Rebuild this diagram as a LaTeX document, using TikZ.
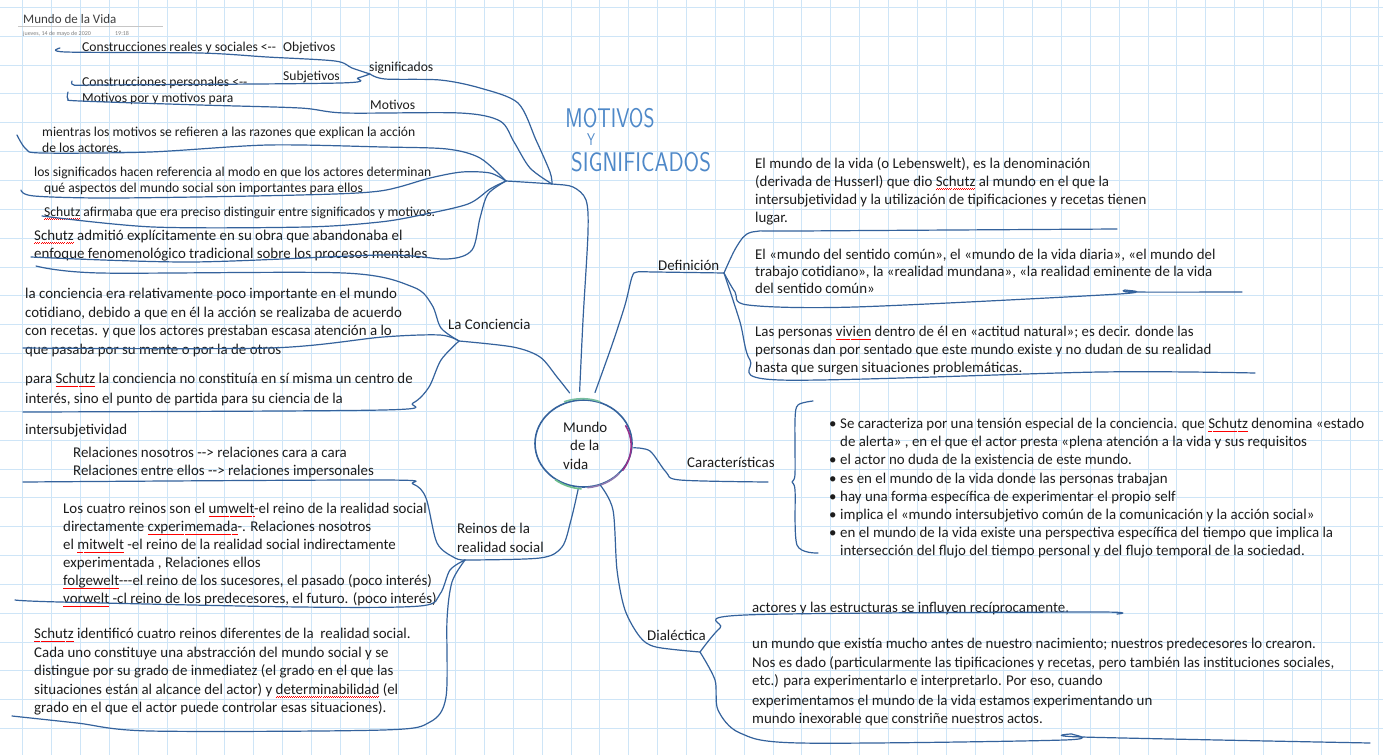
\documentclass[tikz,border=0pt]{standalone}
\usepackage{fontspec}
\setmainfont{Carlito}
\usepackage{graphicx}
\usetikzlibrary{shapes.geometric,positioning}

\definecolor{ink}{RGB}{52,98,156}
\definecolor{gridc}{RGB}{206,229,247}
\definecolor{textc}{RGB}{28,28,28}
\definecolor{handc}{RGB}{78,136,200}
\newsavebox{\splbox}
\newcommand{\spl}[1]{\sbox{\splbox}{#1}\rlap{\textcolor{red}{\hbox to \wd\splbox{\xleaders\hbox{\rule[-3.3pt]{1pt}{0.55pt}\rule[-2.7pt]{1pt}{0.55pt}}\hfill}}}#1}
\newcommand{\hw}[2]{\scalebox{#1}[1]{#2}}

\begin{document}
\begin{tikzpicture}[x=1pt,y=-1pt,
  ink/.style={draw=ink,line width=1.2pt,line cap=round,line join=round},
  gridline/.style={draw=gridc,line width=0.8pt},
  txt/.style={anchor=north west,inner sep=0pt,align=left,text=textc,
    font=\fontsize{14.9}{18.3}\selectfont,execute at begin node=\strut},
  lbl/.style={txt},
  small/.style={txt,font=\fontsize{13.6}{16.5}\selectfont},
  hand/.style={inner sep=0pt,text=handc,font=\sffamily\fontsize{27}{27}\selectfont}]

  \useasboundingbox (0,0) rectangle (1383,755);
  \fill[white] (0,0) rectangle (1383,755);
  \foreach \i in {0,...,47} {\draw[gridline] ({22.85+28.85*\i},0) -- ({22.85+28.85*\i},755);}
  \foreach \j in {0,...,25} {\draw[gridline] (0,{7.3+28.85*\j}) -- (1383,{7.3+28.85*\j});}

  % page title
  \node[anchor=north west,inner sep=0pt,text=textc!85,font=\fontsize{13}{15}\selectfont] (title) at (23,14) {Mundo de la Vida};
  \draw[gray!45,line width=0.6pt] ([xshift=-5pt,yshift=-3pt]title.south west) -- ++(145,0);
  \node[anchor=base west,inner sep=0pt,text=gray,font=\fontsize{6}{7}\selectfont] (date) at (23,35) {jueves, 14 de mayo de 2020};
  \node[anchor=base west,inner sep=0pt,text=gray,font=\fontsize{6}{7}\selectfont] (hour) at (115,35) {19:18};

  % centre
  \node[draw=ink,line width=1.6pt,ellipse,minimum width=97pt,minimum height=87pt,inner sep=0pt] (core) at (583.5,443.5) {};
  \draw[line width=1.6pt,draw={rgb,255:red,120;green,190;blue,160}] (core.68) arc[start angle=68,end angle=112,x radius=48.5pt,y radius=43.5pt];
  \draw[line width=1.6pt,draw={rgb,255:red,150;green,50;blue,140}] (core.-35) arc[start angle=-35,end angle=28,x radius=48.5pt,y radius=43.5pt];
  \draw[line width=1.6pt,draw={rgb,255:red,110;green,190;blue,140}] (core.232) arc[start angle=232,end angle=266,x radius=48.5pt,y radius=43.5pt];
  \draw[line width=1.6pt,draw={rgb,255:red,140;green,120;blue,175}] (core.275) arc[start angle=275,end angle=318,x radius=48.5pt,y radius=43.5pt];
  \node[txt] (coretxt) at (563,422) {Mundo\\\hspace*{7pt}de la\\vida};

  % hand written title
  \node[hand] (hw1) at (610,118) {\hw{0.78}{MOTIVOS}};
  \node[hand,font=\sffamily\fontsize{17}{17}\selectfont] (hw2) at (591,140) {\hw{0.75}{Y}};
  \node[hand] (hw3) at (641,162) {\hw{0.83}{SIGNIFICADOS}};

  % junctions and free ends
  \coordinate (jsig) at (370,74);
  \coordinate (jtop) at (506,181);
  \coordinate (jmid) at (552,184);
  \coordinate (jcon) at (459,341);
  \coordinate (jrei) at (465,560);
  \coordinate (jdef) at (724,273);
  \coordinate (jdia) at (700,652);
  \coordinate (eobj) at (60,48);
  \coordinate (esub) at (72,81);
  \coordinate (emot) at (68,92);
  \coordinate (emie) at (17,135);
  \coordinate (esgn) at (21,190);
  \coordinate (eafi) at (42,216);
  \coordinate (eadm) at (31,257);
  \coordinate (eco1) at (36,266);
  \coordinate (eco2) at (23,348);
  \coordinate (eco3) at (23,412);
  \coordinate (ere1) at (23,482);
  \coordinate (ere2) at (15,600);
  \coordinate (ere3) at (12,716);
  \coordinate (ede1) at (1117,229);
  \coordinate (ede2) at (1242,292);
  \coordinate (ede3) at (1255,373);
  \coordinate (ecar) at (768,482);
  \coordinate (edi1) at (1117,614);
  \coordinate (edi2) at (1370,743);

  % motivos y significados
  \node[small] (objt) at (82,39.5) {Construcciones reales y sociales <-{}-};
  \node[small] (obj) at (283,39.5) {Objetivos};
  \node[small] (sig) at (369,59.5) {significados};
  \node[small] (subj) at (283,68.5) {Subjetivos};
  \node[small] (subjt) at (82,74.5) {Construcciones personales <-{}-};
  \node[small] (mott) at (82,90.5) {Motivos por y motivos para};
  \node[small] (mot) at (370,97.5) {Motivos};
  \node[small] (mien) at (42,126.5) {mientras los motivos se refieren a las razones que explican la acción\\de los actores.};
  \node[small,font=\fontsize{13.6}{16}\selectfont] (sgn) at (34,166.5) {los significados hacen referencia al modo en que los actores determinan\\\hspace*{10pt}qué aspectos del mundo social son importantes para ellos};
  \node[small] (afir) at (44,204.5) {\spl{Schutz} afirmaba que era preciso distinguir entre significados y motivos.};
  \node[txt,font=\fontsize{14.9}{18}\selectfont] (admi) at (34,229.5) {\spl{Schutz} admitió explícitamente en su obra que abandonaba el\\enfoque fenomenológico tradicional sobre los procesos mentales};

  \draw[ink] plot[smooth] coordinates {(eobj) (66,52) (200,53) (267,57) (335,61) (352,68) (jsig)};
  \draw[ink] plot[smooth] coordinates {(esub) (74,85) (100,85) (340,83) (358,78) (jsig)};
  \draw[ink] plot[smooth] coordinates {(jsig) (385,79) (440,80) (480,88) (518,103) (536,140) (550,172) (jmid)};
  \draw[ink] plot[smooth] coordinates {(emot) (68,99) (80,101) (200,105) (300,108) (345,113) (460,113) (500,121) (514,142) (530,168) (jmid)};
  \draw[ink] plot[smooth] coordinates {(emie) (26,149) (42,153) (150,152) (268,145) (383,147) (447,149) (480,158) (jtop)};
  \draw[ink] plot[smooth] coordinates {(esgn) (34,196) (115,198) (300,195) (380,191) (430,178) (462,172) (490,173) (jtop)};
  \draw[ink] plot[smooth] coordinates {(eafi) (153,227) (306,227) (380,222) (421,215) (468,204) (490,189) (jtop)};
  \draw[ink] plot[smooth] coordinates {(eadm) (191,262) (383,255) (447,259) (472,250) (480,218) (488,194) (jtop)};
  \draw[ink] plot[smooth] coordinates {(jtop) (jmid) (573,187) (586,200) (588,232) (583,320) ([yshift=8pt]core.95)};

  % la conciencia
  \node[lbl] (conl) at (448,316.5) {La Conciencia};
  \node[txt,font=\fontsize{14.9}{18.5}\selectfont] (con1) at (25,288) {la conciencia era relativamente poco importante en el mundo\\cotidiano, debido a que en él la acción se realizaba de acuerdo\\con recetas. y que los actores prestaban escasa atención a lo\\que pasaba por su mente o por la de otros};
  \node[txt,font=\fontsize{14.9}{19.5}\selectfont] (con2) at (25,373) {para \spl{Schutz} la conciencia no constituía en sí misma un centro de\\interés, sino el punto de partida para su ciencia de la};
  \node[txt] (inter) at (25,421.5) {intersubjetividad};
  \draw[ink] plot[smooth] coordinates {(eco1) (100,273) (344,273) (413,287) (432,305) (441,328) (jcon)};
  \draw[ink] plot[smooth] coordinates {(eco2) (270,348) (383,337) (440,335) (jcon)};
  \draw[ink] plot[smooth] coordinates {(eco3) (383,410) (413,403) (429,387) (441,360) (jcon)};
  \draw[ink] plot[smooth] coordinates {(jcon) (513,347) (540,357) (557,377) ([yshift=8pt]core.108)};

  % reinos de la realidad social
  \node[lbl,font=\fontsize{14.9}{19}\selectfont] (reil) at (457,522.5) {Reinos de la\\realidad social};
  \node[txt,font=\fontsize{14.9}{18}\selectfont] (rel) at (73,447) {Relaciones nosotros -{}-> relaciones cara a cara\\Relaciones entre ellos -{}-> relaciones impersonales};
  \node[txt,font=\fontsize{14.9}{18}\selectfont] (rei1) at (63,503) {Los cuatro reinos son el \spl{umwelt}-el reino de la realidad social\\directamente \spl{cxperimemada}-. Relaciones nosotros\\el \spl{mitwelt} -el reino de la realidad social indirectamente\\experimentada , Relaciones ellos\\\spl{folgewelt}-{}-{}-el reino de los sucesores, el pasado (poco interés)\\\spl{vorwelt} -cl reino de los predecesores, el futuro. (poco interés)};
  \node[txt,font=\fontsize{14.9}{18.5}\selectfont] (rei2) at (34,628) {\spl{Schutz} identificó cuatro reinos diferentes de la\ \ realidad social.\\Cada uno constituye una abstracción del mundo social y se\\distingue por su grado de inmediatez (el grado en el que las\\situaciones están al alcance del actor) y \spl{determinabilidad} (el\\grado en el que el actor puede controlar esas situaciones).};
  \draw[ink] plot[smooth] coordinates {(ere1) (383,480) (413,484) (426,498) (437,543) (455,558) (jrei)};
  \draw[ink] plot[smooth] coordinates {(ere2) (60,602) (300,607) (420,606) (440,594) (450,570) (jrei)};
  \draw[ink] plot[smooth] coordinates {(jrei) (452,582) (447,620) (446,697) (430,722) (383,730) (150,731) (77,723) (ere3)};
  \draw[ink] plot[smooth] coordinates {(jrei) (540,558) (562,547) (571,520) ([yshift=-2pt]core.-97)};

  % definicion
  \node[lbl] (defl) at (658,257) {Definición};
  \node[txt,font=\fontsize{14.9}{18}\selectfont] (def1) at (755,157) {El mundo de la vida (o Lebenswelt), es la denominación\\(derivada de Husserl) que dio \spl{Schutz} al mundo en el que la\\intersubjetividad y la utilización de tipificaciones y recetas tienen\\lugar.};
  \node[txt,font=\fontsize{14.9}{17}\selectfont] (def2) at (755,249) {El «mundo del sentido común», el «mundo de la vida diaria», «el mundo del\\trabajo cotidiano», la «realidad mundana», «la realidad eminente de la vida\\del sentido común»};
  \node[txt,font=\fontsize{14.9}{18}\selectfont] (def3) at (755,326) {Las personas \spl{vivien} dentro de él en «actitud natural»; es decir. donde las\\personas dan por sentado que este mundo existe y no dudan de su realidad\\hasta que surgen situaciones problemáticas.};
  \draw[ink] plot[smooth] coordinates {([yshift=8pt]core.75) (612,345) (625,305) (632,277) (637,272) (655,272) (jdef)};
  \draw[ink] plot[smooth] coordinates {(jdef) (737,246) (752,232) (800,231) (ede1)};
  \draw[ink] plot[smooth] coordinates {(jdef) (735,292) (748,305) (855,307) (1119,294) (1125,290) (1132,292) (ede2)};
  \draw[ink] plot[smooth] coordinates {(jdef) (740,322) (750,360) (780,380) (1100,372) (ede3)};

  % caracteristicas
  \node[lbl] (carl) at (687,454) {Características};
  \node[txt,font=\fontsize{14.9}{18.2}\selectfont] (car) at (829,418) {%
    \makebox[11pt][l]{\textbullet}Se caracteriza por una tensión especial de la conciencia. que \spl{Schutz} denomina «estado\\
    \hspace*{11pt}de alerta» , en el que el actor presta «plena atención a la vida y sus requisitos\\
    \makebox[11pt][l]{\textbullet}el actor no duda de la existencia de este mundo.\\
    \makebox[11pt][l]{\textbullet}es en el mundo de la vida donde las personas trabajan\\
    \makebox[11pt][l]{\textbullet}hay una forma específica de experimentar el propio self\\
    \makebox[11pt][l]{\textbullet}implica el «mundo intersubjetivo común de la comunicación y la acción social»\\
    \makebox[11pt][l]{\textbullet}en el mundo de la vida existe una perspectiva específica del tiempo que implica la\\
    \hspace*{11pt}intersección del flujo del tiempo personal y del flujo temporal de la sociedad.};
  \draw[ink] plot[smooth] coordinates {([xshift=1pt]core.-5) (650,451) (666,472) (680,480) (ecar)};
  \draw[ink] plot[smooth] coordinates {(813,401) (798,405) (795,420) (795,474) (792,482) (795,490) (797,545) (818,553)};

  % dialectica
  \node[lbl] (dial) at (647,627) {Dialéctica};
  \node[txt] (dia1) at (752,599) {actores y las estructuras se influyen recíprocamente.};
  \node[txt,font=\fontsize{14.9}{18.5}\selectfont] (dia2) at (752,638) {un mundo que existía mucho antes de nuestro nacimiento; nuestros predecesores lo crearon.\\Nos es dado (particularmente las tipificaciones y recetas, pero también las instituciones sociales,\\etc.) para experimentarlo e interpretarlo. Por eso, cuando};
  \node[txt,font=\fontsize{14.9}{18}\selectfont] (dia3) at (752,694.5) {experimentamos el mundo de la vida estamos experimentando un\\mundo inexorable que constriñe nuestros actos.};
  \draw[ink] plot[smooth] coordinates {(core.-68) (613,510) (617,570) (625,610) (640,637) (656,647) (jdia)};
  \draw[ink] plot[smooth] coordinates {(jdia) (720,628) (745,615) (1090,612) (edi1)};
  \draw[ink] plot[smooth] coordinates {(jdia) (715,680) (718,710) (740,733) (800,743) (1064,740) (1072,734) (1082,737) (edi2)};
\end{tikzpicture}
\end{document}
